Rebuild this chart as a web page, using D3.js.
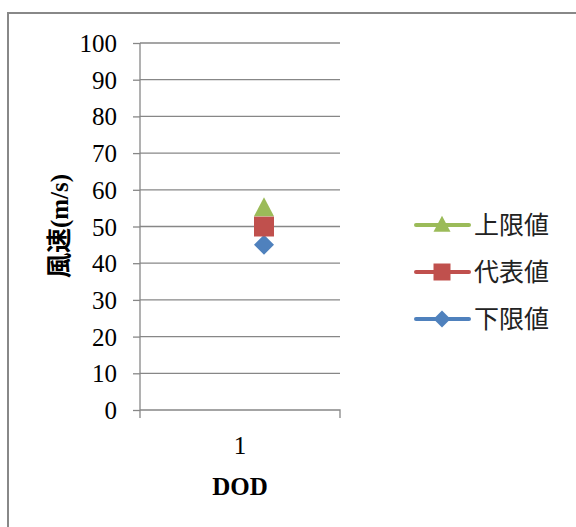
<!DOCTYPE html>
<html>
<head>
<meta charset="utf-8">
<script src="https://cdn.jsdelivr.net/npm/d3@7"></script>
<style>
  body { margin: 0; background: #fff; }
  svg { display: block; }
  .serif { font-family: "Liberation Serif", "Times New Roman", serif; }
  .gothic { font-family: "Noto Sans CJK JP", sans-serif; }
</style>
</head>
<body>
<div id="chart"></div>
<script>
// Data
const categories = ["1"];
const seriesNames = ["上限値", "代表値", "下限値"];
const upperValues = [55];
const typicalValues = [50];
const lowerValues = [45];
const yTicks = [0, 10, 20, 30, 40, 50, 60, 70, 80, 90, 100];

const W = 576, H = 527;
const colors = { "上限値": "#9BBB59", "代表値": "#C0504D", "下限値": "#4F81BD" };
const seriesValues = { "上限値": upperValues, "代表値": typicalValues, "下限値": lowerValues };

// custom marker shapes, size = half width
const triangle = { draw(ctx, r) { ctx.moveTo(0, -r * 1.1); ctx.lineTo(r, r * 0.8); ctx.lineTo(-r, r * 0.8); ctx.closePath(); } };
const square = { draw(ctx, r) { ctx.rect(-r, -r, 2 * r, 2 * r); } };
const diamond = { draw(ctx, r) { ctx.moveTo(0, -r); ctx.lineTo(r, 0); ctx.lineTo(0, r); ctx.lineTo(-r, 0); ctx.closePath(); } };
const symbols = { "上限値": triangle, "代表値": square, "下限値": diamond };

const axisColor = "#878787";

const svg = d3.select("#chart").append("svg")
    .attr("width", W)
    .attr("height", H);

// Outer frame
svg.append("rect")
    .attr("x", 8).attr("y", 13)
    .attr("width", 600).attr("height", 600)
    .attr("fill", "none")
    .attr("stroke", "#888")
    .attr("stroke-width", 2);

const plot = { left: 140, right: 340, top: 43, bottom: 410 };

const x = d3.scaleBand()
    .domain(categories)
    .range([plot.left, plot.right]);

// markers sit a little right of the category centre, as in the original
const markerShift = 24;

const y = d3.scaleLinear()
    .domain([0, 100])
    .range([plot.bottom, plot.top]);

// Gridlines
svg.append("g")
    .selectAll("line")
    .data(yTicks.filter(d => d > 0))
    .enter().append("line")
    .attr("x1", plot.left).attr("x2", plot.right)
    .attr("y1", d => y(d)).attr("y2", d => y(d))
    .attr("stroke", axisColor)
    .attr("stroke-width", 1.3);

// Y axis
const yAxis = svg.append("g")
    .attr("transform", `translate(${plot.left},0)`)
    .call(d3.axisLeft(y).tickValues(yTicks).tickSize(7).tickPadding(16));
yAxis.attr("font-family", null).attr("font-size", null);
yAxis.select(".domain").attr("stroke", axisColor).attr("stroke-width", 1.3)
    .attr("d", `M0,${plot.top}V${plot.bottom + 8}`);
yAxis.selectAll(".tick line").attr("stroke", axisColor).attr("stroke-width", 1.3);
yAxis.selectAll("text")
    .attr("class", "serif")
    .attr("fill", "#000").attr("dy", "0.34em")
    .style("font-size", "25px");

// X axis
const xAxis = svg.append("g")
    .attr("transform", `translate(0,${plot.bottom})`)
    .call(d3.axisBottom(x).tickSize(0).tickPadding(26));
xAxis.attr("font-family", null).attr("font-size", null);
xAxis.select(".domain").attr("stroke", axisColor).attr("stroke-width", 1.3)
    .attr("d", `M${plot.left},0H${plot.right}V8`);
xAxis.selectAll("text")
    .attr("class", "serif")
    .attr("fill", "#000").attr("y", 44).attr("dy", 0)
    .style("font-size", "25px");

// Axis titles
svg.append("text")
    .attr("class", "serif")
    .attr("x", x(categories[0]) + x.bandwidth() / 2)
    .attr("y", 495)
    .attr("text-anchor", "middle")
    .style("font-weight", "bold")
    .style("font-size", "25px")
    .text("DOD");

const yTitle = svg.append("text")
    .attr("transform", "translate(68,226) rotate(-90)")
    .attr("text-anchor", "middle")
    .style("font-weight", "bold")
    .style("font-size", "25px");
yTitle.append("tspan").attr("class", "gothic").text("風速");
yTitle.append("tspan").attr("class", "serif").text("(m/s)");

// Markers (lower first so triangle/square sit on top)
["下限値", "代表値", "上限値"].forEach(name => {
    svg.append("g")
        .selectAll("path")
        .data(seriesValues[name])
        .enter().append("path")
        .attr("transform", (d, i) => `translate(${x(categories[i]) + x.bandwidth() / 2 + markerShift},${y(d)})`)
        .attr("d", d3.symbol().type(symbols[name]).size(10))
        .attr("fill", colors[name]);
});

// Legend
const legend = svg.append("g");
seriesNames.forEach((name, i) => {
    const row = legend.append("g").attr("transform", `translate(0,${225 + i * 47})`);
    row.append("line")
        .attr("x1", 416).attr("x2", 469)
        .attr("stroke", colors[name])
        .attr("stroke-width", 4)
        .attr("stroke-linecap", "round");
    row.append("path")
        .attr("transform", "translate(442,0)")
        .attr("d", d3.symbol().type(symbols[name]).size(8.5))
        .attr("fill", colors[name]);
    row.append("text")
        .attr("class", "gothic")
        .attr("x", 474)
        .attr("y", 9)
        .style("font-size", "25px")
        .attr("fill", "#222")
        .text(name);
});
</script>
</body>
</html>
